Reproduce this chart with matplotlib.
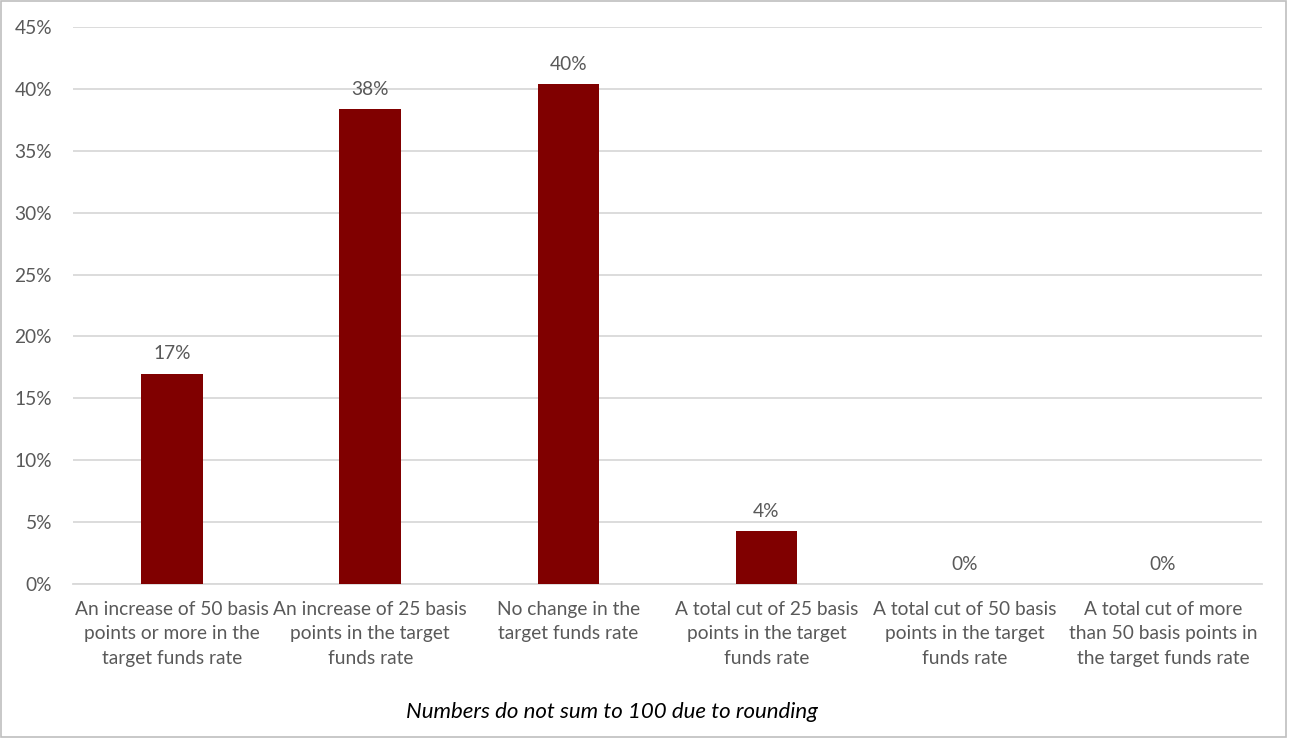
import matplotlib.pyplot as plt
from matplotlib.patches import Rectangle

# Données
categories = [
    "An increase of 50 basis\npoints or more in the\ntarget funds rate",
    "An increase of 25 basis\npoints in the target\nfunds rate",
    "No change in the\ntarget funds rate",
    "A total cut of 25 basis\npoints in the target\nfunds rate",
    "A total cut of 50 basis\npoints in the target\nfunds rate",
    "A total cut of more\nthan 50 basis points in\nthe target funds rate",
]
values = [17.0, 38.4, 40.4, 4.3, 0.0, 0.0]
labels = ["17%", "38%", "40%", "4%", "0%", "0%"]
yticks = [0, 5, 10, 15, 20, 25, 30, 35, 40, 45]

BAR_COLOR = "#800000"
TEXT_COLOR = "#595959"
GRID_COLOR = "#d9d9d9"
FS = 13.8

plt.rcParams['font.family'] = ['Lato', 'DejaVu Sans']

fig = plt.figure(figsize=(12.89, 7.38), dpi=100)
ax = fig.add_axes([0.0566, 0.2087, 0.9224, 0.7547])

x = list(range(len(categories)))
ax.bar(x, values, width=0.31, color=BAR_COLOR, zorder=3)

for xi, v, lab in zip(x, values, labels):
    ax.text(xi, v + 0.9, lab, ha="center", va="bottom", fontsize=FS, color=TEXT_COLOR)

ax.set_xlim(-0.5, len(categories) - 0.5)
ax.set_ylim(0, 45)
ax.set_yticks(yticks)
ax.set_yticklabels([f"{t}%" for t in yticks], fontsize=FS, color=TEXT_COLOR)
ax.set_xticks(x)
ax.set_xticklabels(categories, fontsize=FS, color=TEXT_COLOR, linespacing=1.55)

ax.tick_params(axis="both", length=0)
ax.tick_params(axis="y", pad=15)
ax.tick_params(axis="x", pad=12)
ax.grid(axis="y", color=GRID_COLOR, linewidth=1.3, zorder=0)
for side in ["top", "right", "left"]:
    ax.spines[side].set_visible(False)
ax.spines["bottom"].set_color(GRID_COLOR)
ax.spines["bottom"].set_linewidth(1.3)

fig.text(0.475, 0.035, "Numbers do not sum to 100 due to rounding",
         ha="center", va="center", fontsize=16, style="italic", color="black")

# Cadre autour du graphique
fig.patches.append(Rectangle((0.001, 0.001), 0.997, 0.997, transform=fig.transFigure,
                             fill=False, edgecolor="#bfbfbf", linewidth=1.2))

fig.savefig("out.png", dpi=100, facecolor="white")
